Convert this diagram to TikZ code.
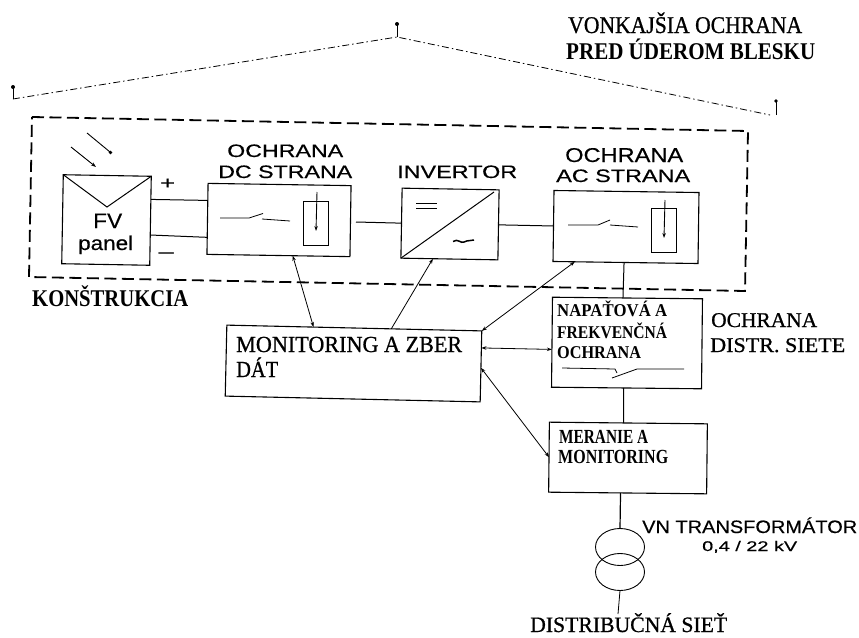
\documentclass[tikz,border=0pt]{standalone}
\usepackage{graphicx}
\usepackage{fontspec}
\setmainfont{Liberation Serif}
\newfontfamily\arialf[FakeBold=0.4]{Liberation Sans}
\newfontfamily\heavyf[FakeBold=0.8]{Liberation Serif}
\usetikzlibrary{arrows.meta,calc,shapes.geometric}
\newcommand\tw[2]{\resizebox{#1pt}{\height}{#2}}
\tikzset{
  box/.style={draw,line width=1.1pt,rectangle,inner sep=0pt,outer sep=0pt},
  ln/.style={line width=1pt},
  thin ln/.style={line width=0.8pt},
  bi/.style={line width=0.8pt,{Stealth[length=5pt,width=3.5pt]}-{Stealth[length=5pt,width=3.5pt]}},
  sans/.style={inner sep=0pt,anchor=base west,font=\arialf\fontsize{18}{20}\selectfont},
  serif/.style={inner sep=0pt,anchor=base west,font=\fontsize{24}{26}\selectfont\bfseries},
  serifm/.style={inner sep=0pt,anchor=base west,font=\heavyf\fontsize{23}{25}\selectfont},
  small/.style={inner sep=0pt,anchor=base west,font=\fontsize{18}{20}\selectfont\bfseries},
  frame/.style={line width=1.8pt,dash pattern=on 12pt off 5.5pt},
  roof/.style={line width=0.8pt,dash pattern=on 7pt off 3pt on 1.5pt off 3pt},
  xf/.style={draw,ellipse,line width=0.9pt,minimum width=49pt,minimum height=37pt,inner sep=0pt,outer sep=0pt},
}
\begin{document}
\begin{tikzpicture}[x=1pt,y=-1pt]
\useasboundingbox (0,0) rectangle (859,637);
% roof
\coordinate (rl) at (13,99); \coordinate (rt) at (397,37); \coordinate (rr) at (770,115);
\coordinate (tl) at (13,87); \coordinate (tt) at (397,24); \coordinate (tr) at (776,101);
\draw[roof] (rl) -- (rt) -- (rr);
\draw[line width=1pt] (rl) -- (tl);
\draw[line width=1pt] (rt) -- (tt);
\draw[line width=1pt] (776,115) -- (tr);
\fill (tl) circle (2pt) (tt) circle (2pt) (tr) circle (1.8pt);
% dashed frame
\coordinate (f1) at (32,117); \coordinate (f2) at (748,131); \coordinate (f3) at (745,291); \coordinate (f4) at (29,277);
\draw[frame] (f1) -- (f2) -- (f3) -- (f4) -- cycle;
% boxes
\node[box,minimum width=88pt,minimum height=89pt,rotate=-1] (pan) at (106.5,220) {};
\node[box,minimum width=143pt,minimum height=71pt,rotate=-0.9] (dc) at (279,220) {};
\node[box,minimum width=97pt,minimum height=70pt,rotate=-1] (inv) at (450,224) {};
\node[box,minimum width=145pt,minimum height=71pt,rotate=-0.8] (ac) at (626,227) {};
\node[box,minimum width=255pt,minimum height=71pt,rotate=-1.3] (mon) at (353.5,363.5) {};
\node[box,minimum width=150pt,minimum height=90pt,rotate=-0.6] (nap) at (627,343) {};
\node[box,minimum width=158pt,minimum height=70pt,rotate=-0.6] (mer) at (628,458) {};
\node[xf] (x1) at (620,547) {};
\node[xf] (x2) at (620,572) {};
% panel details
\draw[ln] (pan.north west) -- (107,207) -- (pan.north east);
\draw[line width=0.9pt,-{Stealth[length=5pt,width=3.5pt]}] (71,147) -- (96,167);
\draw[line width=0.9pt] (87,133) -- (110,152);
\fill (110.5,152.5) circle (1.8pt);
% connectors
\draw[ln] ($(pan.north east)!.26!(pan.south east)$) -- ($(dc.north west)!.24!(dc.south west)$);
\draw[ln] ($(pan.north east)!.66!(pan.south east)$) -- ($(dc.north west)!.76!(dc.south west)$);
\coordinate (dcout) at (356,222);
\draw[ln] (dcout) -- (inv.west);
\draw[ln] (inv.east) -- (ac.west);
\draw[ln] ($(ac.south west)!.49!(ac.south east)$) -- ($(nap.north west)!.47!(nap.north east)$);
\draw[ln] ($(nap.south west)!.48!(nap.south east)$) -- ($(mer.north west)!.47!(mer.north east)$);
\draw[line width=1.2pt] ($(mer.south west)!.455!(mer.south east)$) -- (x1.north);
\coordinate (grid) at (618,614);
\draw[thin ln] (x2.south) -- (grid);
\draw[bi] ($(dc.south west)!.6!(dc.south east)$) -- ($(mon.north west)!.34!(mon.north east)$);
\draw[line width=0.8pt,-{Stealth[length=5pt,width=3.5pt]}] ($(mon.north west)!.645!(mon.north east)$) -- ($(inv.south west)!.33!(inv.south east)$);
\draw[bi] ($(ac.south west)!.15!(ac.south east)$) -- (mon.north east);
\draw[bi] ($(mon.north east)!.24!(mon.south east)$) -- ($(nap.north west)!.58!(nap.south west)$);
\draw[bi] ($(mon.north east)!.52!(mon.south east)$) -- ($(mer.north west)!.5!(mer.south west)$);
% DC switch and fuse
\draw[thin ln] (220,218) -- (249,218) -- (263,213.5);
\draw[thin ln] (262,219) -- (290,221);
\draw[thin ln] (303,201) rectangle (328,245);
\draw[line width=0.9pt,-{Stealth[length=5pt,width=3.5pt]}] (317,192) -- (316,231);
% AC switch and fuse
\draw[thin ln] (568,225) -- (598,225) -- (610,220);
\draw[thin ln] (610,225) -- (638,227);
\draw[thin ln] (651,208) rectangle (676,252);
\draw[line width=0.9pt,-{Stealth[length=5pt,width=3.5pt]}] (665,200) -- (664,238);
% inverter details
\draw[ln] (inv.south west) -- (494,192);
\draw[line width=1.2pt] (416,203.5) -- (437,203.5) (416,208.5) -- (437,208.5);
\draw[line width=1.5pt] (453,241.5) .. controls (458,238) and (461,244) .. (464,242) .. controls (468,240) and (471,241) .. (474,240);
% NAP switch
\draw[thin ln] (562,368) -- (615,369) -- (617,373);
\draw[thin ln] (612,378) -- (637,369) -- (684,369);
% labels
\node[sans] (l1) at (227,157) {\tw{116}{OCHRANA}};
\node[sans] (l2) at (218,178) {\tw{134}{DC STRANA}};
\node[sans] (l3) at (397,178) {\tw{120}{INVERTOR}};
\node[sans,font=\arialf\fontsize{20}{22}\selectfont] (l4) at (565,162) {\tw{118}{OCHRANA}};
\node[sans] (l5) at (556,182) {\tw{134}{AC STRANA}};
\node[sans,font=\arialf\fontsize{21}{23}\selectfont] (l6) at (93,228) {\tw{29}{FV}};
\node[sans,font=\arialf\fontsize{20}{22}\selectfont] (l7) at (78,250) {\tw{55}{panel}};
\node[sans] (l8) at (160,189) {\tw{15}{+}};
\node[sans] (l9) at (157,259) {\tw{18}{−}};
\node[serif] (l10) at (32,306) {\tw{156}{KONŠTRUKCIA}};
\node[serifm,font=\heavyf\fontsize{24}{26}\selectfont] (l11) at (568,33) {\tw{234}{VONKAJŠIA OCHRANA}};
\node[serif] (l12) at (566,59) {\tw{249}{PRED ÚDEROM BLESKU}};
\node[serifm] (l13) at (236,352) {\tw{226}{MONITORING A ZBER}};
\node[serifm] (l14) at (236,377) {\tw{42}{DÁT}};
\node[small] (l15) at (557,316) {\tw{110}{NAPAŤOVÁ A}};
\node[small] (l16) at (557,338) {\tw{110}{FREKVENČNÁ}};
\node[small] (l17) at (557,358) {\tw{84}{OCHRANA}};
\node[serifm,font=\heavyf\fontsize{21}{23}\selectfont] (l18) at (711,327) {\tw{106}{OCHRANA}};
\node[serifm,font=\heavyf\fontsize{21}{23}\selectfont] (l19) at (710,352) {\tw{135}{DISTR. SIETE}};
\node[small,font=\fontsize{20}{22}\selectfont\bfseries] (l20) at (559,443) {\tw{89}{MERANIE A}};
\node[small,font=\fontsize{20}{22}\selectfont\bfseries] (l21) at (558,463) {\tw{110}{MONITORING}};
\node[sans] (l22) at (642,533) {\tw{215}{VN TRANSFORMÁTOR}};
\node[sans,font=\arialf\fontsize{14}{16}\selectfont] (l23) at (702,551) {\tw{95}{0,4 / 22 kV}};
\node[serifm,font=\heavyf\fontsize{22}{24}\selectfont] (l24) at (530,632) {\tw{197}{DISTRIBUČNÁ SIEŤ}};
\end{tikzpicture}
\end{document}
